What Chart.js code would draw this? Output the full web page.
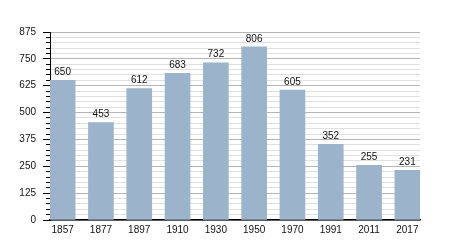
<!DOCTYPE html>
<html>
<head>
<meta charset="utf-8">
<script src="https://cdn.jsdelivr.net/npm/chart.js@4"></script>
<style>
  body { margin: 0; background: #fff; }
  #wrap { width: 450px; height: 250px; }
</style>
</head>
<body>
<div id="wrap"><canvas id="myChart" width="450" height="250"></canvas></div>
<script>
// 연도 / 인구
const years = ["1857", "1877", "1897", "1910", "1930", "1950", "1970", "1991", "2011", "2017"];
const population = [650, 453, 612, 683, 732, 806, 605, 352, 255, 231];
const yMax = 875;
const majorStep = 125;
const minorStep = 25;

const barColor = "#9bb3cb";
const fontFamily = "'Liberation Sans', Arial, sans-serif";

// 막대 위 숫자
const valueLabels = {
	id: "valueLabels",
	afterDatasetsDraw(chart) {
		const c = chart.ctx;
		const meta = chart.getDatasetMeta(0);
		c.save();
		c.font = "10px " + fontFamily;
		c.fillStyle = "#111";
		c.textAlign = "center";
		c.textBaseline = "bottom";
		meta.data.forEach(function(bar, i) {
			c.fillText(population[i], bar.x, bar.y - 3);
		});
		c.restore();
	}
};

var ctx = document.getElementById("myChart");

var config = {
	type: "bar",
	data: {
		datasets: [{
			data: years.map((y, i) => ({ x: i, y: population[i] })),
			backgroundColor: barColor,
			borderWidth: 0,
			barThickness: 25
		}]
	},
	options: {
		responsive: false,
		animation: false,
		layout: { padding: { top: 32, right: 30, left: 0, bottom: 0 } },
		plugins: {
			legend: { display: false },
			tooltip: { enabled: false }
		},
		scales: {
			x: {
				type: "linear",
				offset: false,
				min: -0.33,
				max: 9.33,
				grid: { display: false, drawTicks: false },
				border: { display: true, color: "#000", width: 1.5 },
				ticks: {
					stepSize: 1,
					includeBounds: false,
					padding: 4,
					color: "#111",
					font: { family: fontFamily, size: 10 },
					maxRotation: 0,
					autoSkip: false,
					callback: v => years[v] || ""
				},
				afterFit: s => { s.height = 30; }
			},
			y: {
				position: "left",
				weight: 1,
				min: 0,
				max: yMax,
				grid: { color: "#b4b4b4", tickColor: "#000", tickLength: 7 },
				border: { display: true, color: "#000", width: 1 },
				ticks: {
					stepSize: majorStep,
					padding: 7,
					color: "#111",
					font: { family: fontFamily, size: 10 }
				},
				afterFit: s => { s.width = 50; }
			},
			y2: {
				position: "left",
				weight: 0,
				min: 0,
				max: yMax,
				grid: {
					color: c => (c.tick && c.tick.value % majorStep === 0) ? "rgba(0,0,0,0)" : "#e0e0e0",
					tickColor: "#000",
					tickLength: 4
				},
				border: { display: false },
				ticks: { stepSize: minorStep, display: false },
				afterFit: s => { s.width = 0; }
			}
		}
	},
	plugins: [valueLabels]
};

var myChart = new Chart(ctx, config);
</script>
</body>
</html>
